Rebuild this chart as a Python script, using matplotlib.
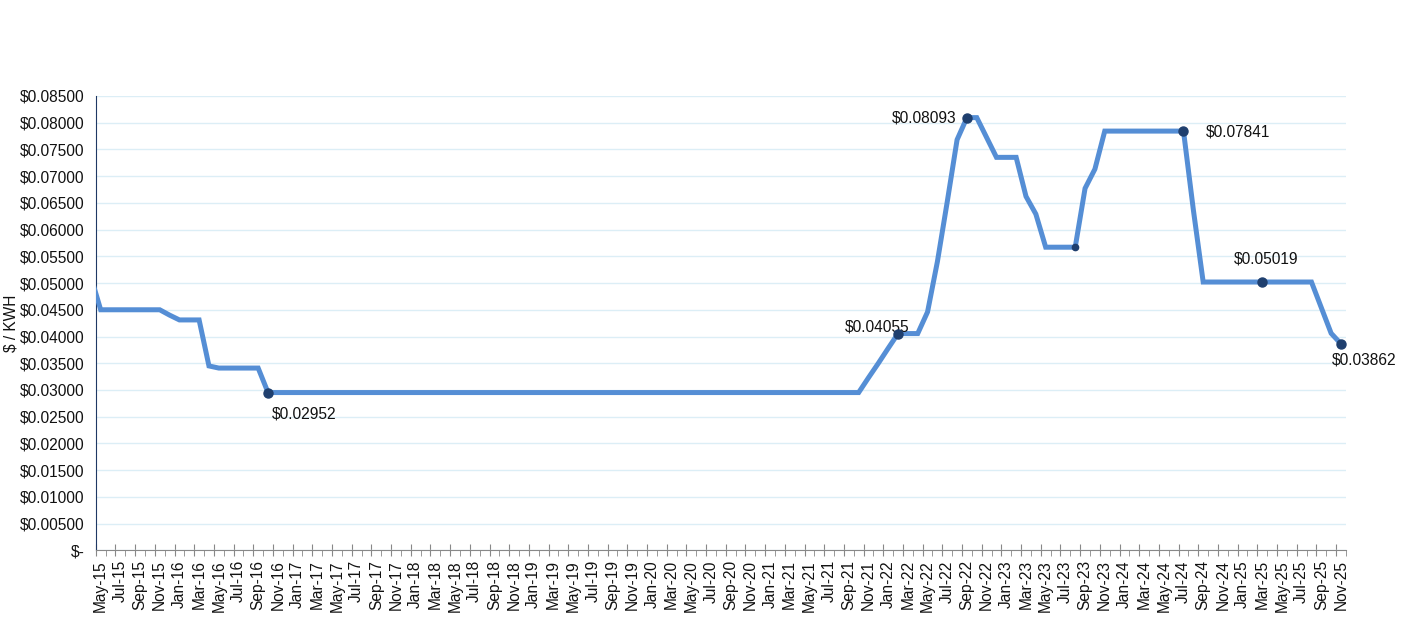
import numpy as np
import pandas as pd
import matplotlib.pyplot as plt
from matplotlib.ticker import FuncFormatter
from matplotlib.transforms import ScaledTranslation

plt.rcParams['font.family'] = ['Liberation Sans', 'DejaVu Sans']

# month labels May-15 .. Nov-25 (index 0..126); Apr-15 sits at -1, clipped by the axis
months = pd.date_range('2015-05-01', '2025-11-01', freq='MS').strftime('%b-%y').tolist()

price = ([0.0512] +                                   # Apr-15
         [0.0450] * 7 + [0.0440] + [0.0431] * 3 +     # May-15 .. Mar-16
         [0.0345] + [0.0341] * 5 +                    # Apr-16 .. Sep-16
         [0.02952] * 61 +                             # Oct-16 .. Oct-21
         [0.0323, 0.0350, 0.0378] +                   # Nov-21 .. Jan-22
         [0.04055] * 3 +                              # Feb-22 .. Apr-22
         [0.0446, 0.0540, 0.0652, 0.0768] +           # May-22 .. Aug-22
         [0.08093, 0.08093, 0.0772] +                 # Sep-22 .. Nov-22
         [0.0735] * 3 + [0.0662, 0.0629] +            # Dec-22 .. Apr-23
         [0.0567] * 4 + [0.0677, 0.0713] +            # May-23 .. Oct-23
         [0.07841] * 9 + [0.0637] +                   # Nov-23 .. Aug-24
         [0.05019] * 12 +                             # Sep-24 .. Aug-25
         [0.0454, 0.0406, 0.03862])                   # Sep-25 .. Nov-25
idx = np.arange(-1, len(price) - 1)

# labelled points: (month index, label, offset px, ha)
marks = [(17, '$0.02952', (4, -21), 'left'),
         (81, '$0.04055', (-21, 7), 'center'),
         (88, '$0.08093', (-10, 0), 'right'),
         (110, '$0.07841', (22, -1), 'left'),
         (118, '$0.05019', (4, 23), 'center'),
         (126, '$0.03862', (23, -16), 'center')]
plain_mark = 99  # Aug-23, dot only

line_col = '#558ED5'
dot_col = '#1F3F6E'

fig = plt.figure(figsize=(14.02, 6.39), dpi=100)
ax = fig.add_axes([0.0683, 0.1386, 0.8917, 0.7114])

ax.plot(idx, price, color=line_col, lw=3.6, solid_joinstyle='miter', zorder=3)
for i, txt, off, ha in marks:
    v = price[i + 1]
    ax.plot(i, v, 'o', color=dot_col, ms=6.5, zorder=4)
    ax.annotate(txt, (i, v), xytext=off, textcoords='offset pixels',
                ha=ha, va='center', fontsize=11.2, color='#111111')
ax.plot(plain_mark, price[plain_mark + 1], 'o', color=dot_col, ms=4.5, zorder=4)

ax.set_xlim(-0.5, len(months) - 0.5)
ax.set_ylim(0, 0.085)
ax.set_yticks(np.arange(0, 0.0851, 0.005))
ax.yaxis.set_major_formatter(FuncFormatter(lambda v, p: '$-' if v < 1e-9 else f'${v:.5f}'))
ax.grid(axis='y', color='#DCEEF6', lw=1, zorder=0)
ax.tick_params(axis='y', length=0, pad=8, labelsize=11.2, labelcolor='#111111')

# ticks on month boundaries, labels every 2 months centred on the month
major = np.arange(0, len(months), 2) - 0.5
ax.set_xticks(major)
ax.set_xticklabels(months[::2], rotation=90, fontsize=11.2, color='#111111')
ax.set_xticks(np.arange(1, len(months) + 1, 2) - 0.5, minor=True)
ax.tick_params(axis='x', which='major', direction='inout', length=8, color='#888888', pad=3)
ax.tick_params(axis='x', which='minor', direction='out', length=4, color='#888888')
shift = ScaledTranslation(4.9 / 100, 0, fig.dpi_scale_trans)
for lab in ax.get_xticklabels():
    lab.set_transform(lab.get_transform() + shift)

for s in ['top', 'right']:
    ax.spines[s].set_visible(False)
ax.spines['left'].set_color('#1F3864')
ax.spines['bottom'].set_color('#888888')
ax.set_ylabel('$ / KWH', fontsize=11.2, color='#111111', labelpad=4)
ax.yaxis.set_label_coords(-0.062, 0.5)

fig.savefig('out.png', dpi=100)
